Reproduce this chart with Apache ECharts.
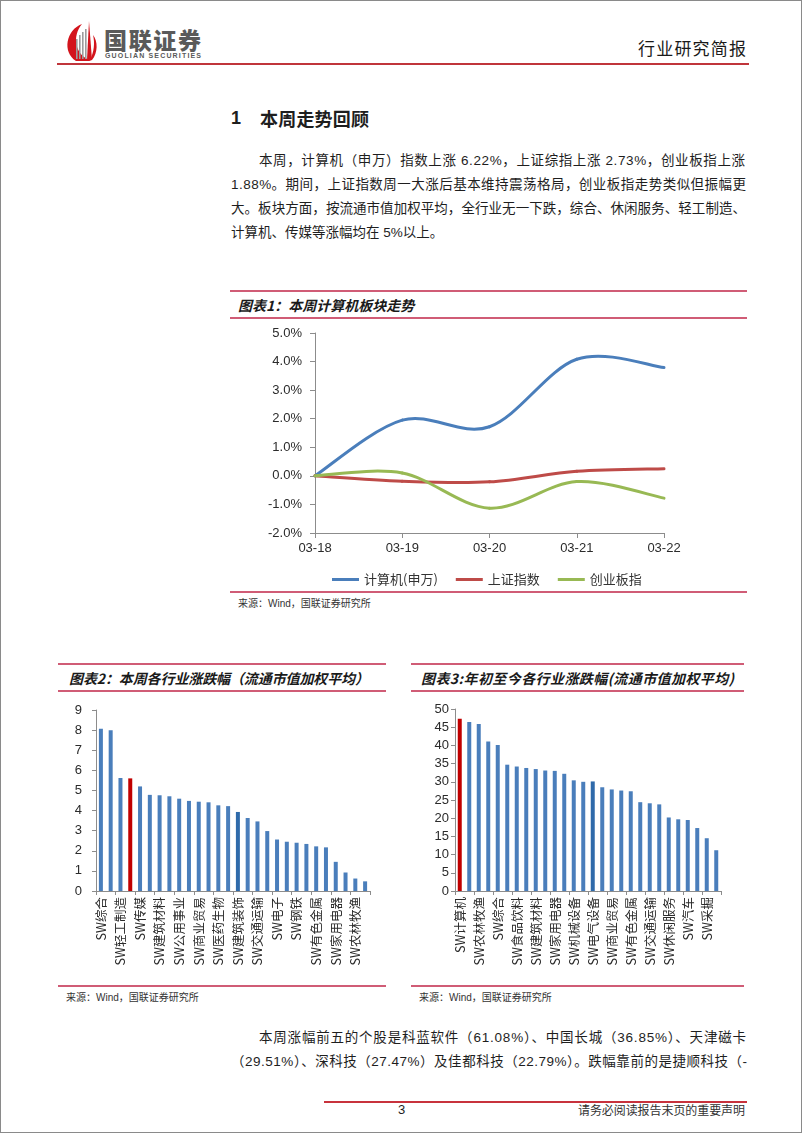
<!DOCTYPE html>
<html><head><meta charset="utf-8">
<script src="https://cdn.jsdelivr.net/npm/echarts@6/dist/echarts.min.js"></script>
<style>
html,body{margin:0;padding:0;background:#fff;}
#page{position:relative;width:800px;height:1131px;border:1px solid #8a8a8a;overflow:hidden;font-family:"Liberation Sans","Noto Sans CJK SC",sans-serif;color:#1e1e1e;background:#fff;}
.t{position:absolute;white-space:nowrap;}
.rule{position:absolute;height:2px;background:#d05c76;}
.ttl{position:absolute;white-space:nowrap;font-family:"Noto Sans CJK SC",sans-serif;font-weight:bold;font-style:italic;font-size:14px;line-height:16px;color:#1a1a1a;}
.src{position:absolute;white-space:nowrap;font-family:"Liberation Sans","Noto Sans CJK SC",sans-serif;font-size:10px;line-height:12px;color:#333;}
.p{position:absolute;white-space:nowrap;font-family:"Liberation Sans","Noto Sans CJK SC",sans-serif;font-size:13.5px;line-height:20px;color:#1e1e1e;}
.chart{position:absolute;}
</style>
</head>
<body>
<div id="page">
  <!-- header -->
  <svg class="t" style="left:60px;top:18px" width="40" height="44" viewBox="0 0 40 44">
    <path d="M21,5 C5,11 1,33 15,42 L31,42 C13,36 11,17 21,5Z" fill="#d3141c"/>
    <rect x="15" y="20" width="1.6" height="20" fill="#9c9c9c"/>
    <rect x="18" y="16" width="1.6" height="24" fill="#9c9c9c"/>
    <rect x="21" y="13" width="1.6" height="27" fill="#9c9c9c"/>
    <rect x="24" y="10" width="1.6" height="30" fill="#9c9c9c"/>
    <path d="M28,2 L31,41 L26,41 Z" fill="#d3141c"/>
    <path d="M32,16 C37,22 37,34 31,41 L29,41 C33,33 34,24 32,16Z" fill="#d3141c"/>
  </svg>
  <div class="t" data-w="97" style="left:103px;top:24px;font-family:'Noto Sans CJK SC';font-weight:900;font-size:23px;line-height:28px;color:#5a5a5a;">国联证券</div>
  <div class="t" data-w="96" style="left:104px;top:51px;font-family:'Liberation Sans';font-weight:bold;font-size:7px;line-height:8px;color:#5a5a5a;">GUOLIAN SECURITIES</div>
  <div class="t" data-w="108" style="left:637px;top:37px;font-family:'Noto Sans CJK SC';font-size:17px;line-height:20px;color:#1a1a1a;">行业研究简报</div>
  <div class="rule" style="left:56px;top:62px;width:692px;background:#c0353b;"></div>

  <!-- section heading -->
  <div class="t" style="left:230px;top:106px;font-family:'Liberation Sans';font-weight:bold;font-size:18px;line-height:22px;">1</div>
  <div class="t" data-w="109" style="left:259px;top:106px;font-family:'Noto Sans CJK SC';font-weight:bold;font-size:18px;line-height:22px;">本周走势回顾</div>

  <div class="p" data-w="486" style="left:258px;top:150px;">本周，计算机（申万）指数上涨 6.22%，上证综指上涨 2.73%，创业板指上涨</div>
  <div class="p" data-w="515" style="left:230px;top:174px;">1.88%。期间，上证指数周一大涨后基本维持震荡格局，创业板指走势类似但振幅更</div>
  <div class="p" data-w="515" style="left:230px;top:198px;">大。板块方面，按流通市值加权平均，全行业无一下跌，综合、休闲服务、轻工制造、</div>
  <div class="p" style="left:230px;top:222px;">计算机、传媒等涨幅均在 5%以上。</div>

  <!-- chart 1 block -->
  <div class="rule" style="left:229px;top:289px;width:517px;"></div>
  <div class="ttl" style="left:237px;top:296px;">图表1：本周计算机板块走势</div>
  <div class="rule" style="left:229px;top:316px;width:517px;"></div>
  <div id="c1" class="chart" style="left:229px;top:320px;width:517px;height:268px;"></div>
  <div class="rule" style="left:229px;top:590px;width:517px;"></div>
  <div class="src" style="left:237px;top:597px;">来源：Wind，国联证券研究所</div>

  <!-- chart 2 block -->
  <div class="rule" style="left:57px;top:662px;width:328px;"></div>
  <div class="ttl" data-w="300" style="left:68px;top:669px;">图表2：本周各行业涨跌幅（流通市值加权平均）</div>
  <div class="rule" style="left:57px;top:689px;width:328px;"></div>
  <div id="c2" class="chart" style="left:57px;top:695px;width:328px;height:286px;"></div>
  <div class="rule" style="left:57px;top:984px;width:328px;"></div>
  <div class="src" style="left:65px;top:991px;">来源：Wind，国联证券研究所</div>

  <!-- chart 3 block -->
  <div class="rule" style="left:410px;top:662px;width:333px;"></div>
  <div class="ttl" data-w="313" style="left:420px;top:669px;">图表3:年初至今各行业涨跌幅(流通市值加权平均)</div>
  <div class="rule" style="left:410px;top:689px;width:333px;"></div>
  <div id="c3" class="chart" style="left:410px;top:695px;width:333px;height:286px;"></div>
  <div class="rule" style="left:410px;top:984px;width:333px;"></div>
  <div class="src" style="left:418px;top:991px;">来源：Wind，国联证券研究所</div>

  <div class="p" data-w="487" style="left:258px;top:1027px;">本周涨幅前五的个股是科蓝软件（61.08%）、中国长城（36.85%）、天津磁卡</div>
  <div class="p" data-w="516" style="left:230px;top:1051px;">（29.51%）、深科技（27.47%）及佳都科技（22.79%）。跌幅靠前的是捷顺科技（-</div>

  <!-- footer -->
  <div class="rule" style="left:323px;top:1100px;width:423px;background:#c8323c;"></div>
  <div class="t" style="left:397px;top:1100px;font-family:'Liberation Sans';font-size:13px;line-height:18px;">3</div>
  <div class="t" data-w="167" style="left:577px;top:1100px;font-family:'Noto Sans CJK SC';font-size:12px;line-height:18px;color:#333;">请务必阅读报告末页的重要声明</div>
</div>

<script>
// ---------- Chart 1 data ----------
const dates = ['03-18', '03-19', '03-20', '03-21', '03-22'];
const computerSW = [0, 1.95, 1.72, 4.08, 3.79];
const shIndex = [0, -0.19, -0.21, 0.16, 0.25];
const cybIndex = [0, 0.10, -1.13, -0.20, -0.78];
const lineNames = ['计算机(申万)', '上证指数', '创业板指'];

// ---------- Chart 2 data (this week) ----------
const weekIndustries = ['SW综合', 'SW休闲服务', 'SW轻工制造', 'SW计算机', 'SW传媒', 'SW机械设备', 'SW建筑材料',
  'SW电气设备', 'SW公用事业', 'SW化工', 'SW商业贸易', 'SW纺织服装', 'SW医药生物', 'SW通信', 'SW建筑装饰',
  'SW国防军工', 'SW交通运输', 'SW房地产', 'SW电子', 'SW汽车', 'SW钢铁', 'SW食品饮料', 'SW有色金属', 'SW采掘',
  'SW家用电器', 'SW非银金融', 'SW农林牧渔', 'SW银行'];
const weekChange = [8.07, 7.99, 5.62, 5.60, 5.20, 4.78, 4.76, 4.71, 4.59, 4.48, 4.44, 4.41, 4.26, 4.22, 3.93,
  3.63, 3.46, 2.98, 2.56, 2.45, 2.40, 2.34, 2.22, 2.17, 1.45, 0.92, 0.62, 0.48];

// ---------- Chart 3 data (year to date) ----------
const ytdIndustries = ['SW计算机', 'SW非银金融', 'SW农林牧渔', 'SW电子', 'SW综合', 'SW通信', 'SW食品饮料',
  'SW传媒', 'SW建筑材料', 'SW国防军工', 'SW家用电器', 'SW轻工制造', 'SW机械设备', 'SW化工', 'SW电气设备',
  'SW医药生物', 'SW商业贸易', 'SW房地产', 'SW有色金属', 'SW纺织服装', 'SW交通运输', 'SW建筑装饰', 'SW休闲服务',
  'SW钢铁', 'SW汽车', 'SW公用事业', 'SW采掘', 'SW银行'];
const ytdChange = [47.3, 46.4, 45.9, 41.1, 40.1, 34.7, 34.2, 33.8, 33.5, 33.1, 33.0, 32.2, 30.4, 30.0, 30.1,
  28.5, 27.9, 27.6, 27.4, 24.4, 24.1, 23.8, 20.2, 19.7, 19.5, 17.3, 14.5, 11.2];

const highlightName = 'SW计算机';

// ---------- text fitting ----------
function fit() {
  document.querySelectorAll('[data-w]').forEach(el => {
    el.style.letterSpacing = '0px';
    const w = parseFloat(el.dataset.w);
    const nat = el.getBoundingClientRect().width;
    const n = Array.from(el.textContent).length;
    if (n > 1) el.style.letterSpacing = ((w - nat) / (n - 1)) + 'px';
  });
}
fit();

const AX = '#8c8c8c';
const LBL = '#2b2b2b';

// ---------- Chart 1 (Excel-style Catmull-Rom smoothing drawn via custom series) ----------
const c1 = echarts.init(document.getElementById('c1'));
const lineColors = ['#4a7ebb', '#be4b48', '#98b954'];
const lineData = [computerSW, shIndex, cybIndex];

function smoothSegment(color) {
  return function (params, api) {
    const n = params.dataInsideLength;
    const i = params.dataIndexInside;
    if (i >= n - 1) return null;
    const P = k => {
      const kk = Math.max(0, Math.min(n - 1, k));
      return api.coord([api.value(0, kk), api.value(1, kk)]);
    };
    const p0 = P(i - 1), p1 = P(i), p2 = P(i + 1), p3 = P(i + 2);
    return {
      type: 'bezierCurve',
      shape: {
        x1: p1[0], y1: p1[1], x2: p2[0], y2: p2[1],
        cpx1: p1[0] + (p2[0] - p0[0]) / 6, cpy1: p1[1] + (p2[1] - p0[1]) / 6,
        cpx2: p2[0] - (p3[0] - p1[0]) / 6, cpy2: p2[1] - (p3[1] - p1[1]) / 6
      },
      style: { stroke: color, lineWidth: 3, fill: 'none', lineCap: 'round' },
      silent: true
    };
  };
}

c1.setOption({
  animation: false,
  grid: { left: 85, top: 12, width: 349, height: 200 },
  legend: {
    left: 97, top: 247, icon: 'rect', itemWidth: 27, itemHeight: 3, itemGap: 18,
    textStyle: { fontFamily: 'Noto Sans CJK SC', fontSize: 13, color: '#333' },
    data: lineNames
  },
  xAxis: {
    type: 'category', data: dates, boundaryGap: false,
    axisLine: { onZero: false, lineStyle: { color: AX, width: 1 } },
    axisTick: { show: true, length: 5, lineStyle: { color: AX } },
    axisLabel: { color: LBL, fontSize: 13, margin: 9, fontFamily: 'Liberation Sans' }
  },
  yAxis: {
    type: 'value', min: -2, max: 5, interval: 1,
    splitLine: { show: false },
    axisLine: { show: true, lineStyle: { color: AX } },
    axisTick: { show: true, length: 5, lineStyle: { color: AX } },
    axisLabel: { color: LBL, fontSize: 13, margin: 13, fontFamily: 'Liberation Sans',
      formatter: v => v.toFixed(1) + '%' }
  },
  series: lineNames.map((n, i) => ({
    name: n, type: 'custom', coordinateSystem: 'cartesian2d',
    data: lineData[i].map((v, k) => [k, v]),
    encode: { x: 0, y: 1 },
    renderItem: smoothSegment(lineColors[i]),
    itemStyle: { color: lineColors[i] }
  }))
});

// ---------- Bar charts ----------
function barOption(cats, vals, max, interval, gridLeft, gridTop, gridWidth, gridHeight, labelMargin) {
  return {
    animation: false,
    grid: { left: gridLeft, top: gridTop, width: gridWidth, height: gridHeight },
    xAxis: {
      type: 'category', data: cats,
      axisLine: { lineStyle: { color: AX } },
      axisTick: { show: true, length: 4, lineStyle: { color: AX } },
      axisLabel: { interval: 1, rotate: 90, fontSize: 12.5, color: LBL, margin: 6,
        fontFamily: 'Noto Sans CJK SC' }
    },
    yAxis: {
      type: 'value', min: 0, max: max, interval: interval,
      splitLine: { show: false },
      axisLine: { show: true, lineStyle: { color: AX } },
      axisTick: { show: true, length: 4, lineStyle: { color: AX } },
      axisLabel: { fontSize: 13, color: LBL, margin: labelMargin, fontFamily: 'Liberation Sans' }
    },
    series: [{
      type: 'bar', barWidth: 4,
      data: vals.map((v, i) => ({
        value: v,
        itemStyle: { color: cats[i] === highlightName ? '#c00000' : (i === 14 ? '#2f6aaa' : '#4a7ebb') }
      }))
    }]
  };
}
const c2 = echarts.init(document.getElementById('c2'));
c2.setOption(barOption(weekIndustries, weekChange, 9, 1, 38, 14, 274, 181, 14));
const c3 = echarts.init(document.getElementById('c3'));
c3.setOption(barOption(ytdIndustries, ytdChange, 50, 5, 44, 13, 266, 182, 6));
</script>
</body></html>
